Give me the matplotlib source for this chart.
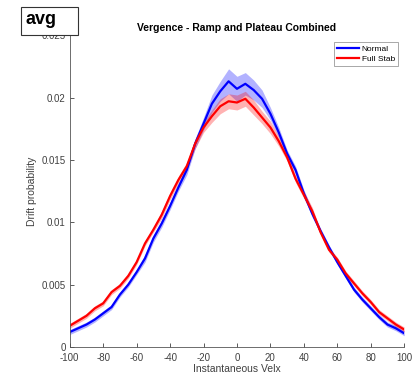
import matplotlib.pyplot as plt
from matplotlib.patches import Rectangle
import numpy as np

plt.rcParams['font.family'] = ['Liberation Sans', 'DejaVu Sans']
plt.rcParams['axes.unicode_minus'] = False

velx = list(range(-100, 101, 5))
normal = [0.0012, 0.0015, 0.0018, 0.0022, 0.0027, 0.0032, 0.0042, 0.0050, 0.0060, 0.0071,
          0.0087, 0.0099, 0.0113, 0.0128, 0.0142, 0.0163, 0.0179, 0.0195, 0.0205, 0.0213,
          0.0207, 0.0211, 0.0206, 0.0199, 0.0187, 0.0172, 0.0155, 0.0142, 0.0123, 0.0107,
          0.0093, 0.0080, 0.0068, 0.0057, 0.0046, 0.0038, 0.0031, 0.0024, 0.0018, 0.0015, 0.0011]
normal_err = [0.0002, 0.0002, 0.0002, 0.0002, 0.0002, 0.0002, 0.0002, 0.0002, 0.0002, 0.0003,
              0.0003, 0.0003, 0.0003, 0.0003, 0.0004, 0.0004, 0.0005, 0.0007, 0.0008, 0.0010,
              0.0010, 0.0009, 0.0008, 0.0007, 0.0005, 0.0004, 0.0003, 0.0003, 0.0003, 0.0003,
              0.0002, 0.0002, 0.0002, 0.0002, 0.0002, 0.0002, 0.0002, 0.0002, 0.0002, 0.0002, 0.0002]
stab = [0.0017, 0.0021, 0.0025, 0.0031, 0.0035, 0.0044, 0.0049, 0.0057, 0.0068, 0.0083,
        0.0094, 0.0106, 0.0121, 0.0134, 0.0145, 0.0163, 0.0176, 0.0185, 0.0193, 0.0197,
        0.0196, 0.0199, 0.0192, 0.0184, 0.0176, 0.0165, 0.0152, 0.0135, 0.0122, 0.0109,
        0.0092, 0.0078, 0.0070, 0.0059, 0.0051, 0.0043, 0.0036, 0.0028, 0.0023, 0.0018, 0.0014]
stab_err = [0.0002, 0.0002, 0.0002, 0.0002, 0.0002, 0.0002, 0.0002, 0.0002, 0.0002, 0.0002,
            0.0002, 0.0003, 0.0003, 0.0003, 0.0003, 0.0004, 0.0004, 0.0005, 0.0006, 0.0006,
            0.0006, 0.0006, 0.0006, 0.0005, 0.0005, 0.0004, 0.0003, 0.0003, 0.0003, 0.0003,
            0.0002, 0.0002, 0.0002, 0.0002, 0.0002, 0.0002, 0.0002, 0.0002, 0.0002, 0.0002, 0.0002]

x = np.array(velx)
n, ne = np.array(normal), np.array(normal_err)
s, se = np.array(stab), np.array(stab_err)

fig = plt.figure(figsize=(4.15, 3.78), dpi=100)
ax = fig.add_axes([0.168, 0.082, 0.806, 0.825])

ax.fill_between(x, n - ne, n + ne, color=(0, 0, 1), alpha=0.3, linewidth=0)
ax.fill_between(x, s - se, s + se, color=(1, 0, 0), alpha=0.3, linewidth=0)
ax.plot(x, n, color=(0, 0, 1), lw=1.6, label='Normal')
ax.plot(x, s, color=(1, 0, 0), lw=1.6, label='Full Stab')

ax.set_xlim(-100, 100)
ax.set_ylim(0, 0.025)
ax.set_xticks(range(-100, 101, 20))
ax.set_yticks([0, 0.005, 0.01, 0.015, 0.02, 0.025])
ax.set_yticklabels(['0', '0.005', '0.01', '0.015', '0.02', '0.025'])
ax.tick_params(direction='in', length=3, width=0.6, labelsize=7, colors='#404040', pad=3)
ax.tick_params(axis='x', pad=4)
for side in ['top', 'right']:
    ax.spines[side].set_visible(False)
for side in ['left', 'bottom']:
    ax.spines[side].set_color('#555555')
    ax.spines[side].set_linewidth(0.6)

ax.set_xlabel('Instantaneous Velx', fontsize=7.5, color='#404040', labelpad=1)
ax.set_ylabel('Drift probability', fontsize=7.5, color='#404040', labelpad=3)
ax.set_title('Vergence - Ramp and Plateau Combined', fontsize=7.5, fontweight='bold', pad=3)

leg = ax.legend(loc='upper right', bbox_to_anchor=(398 / 415, 1 - 42 / 378),
                bbox_transform=fig.transFigure, borderaxespad=0, fontsize=6,
                fancybox=False, handlelength=2.7, handletextpad=0.3,
                borderpad=0.35, labelspacing=0.3)
leg.get_frame().set_edgecolor('#808080')
leg.get_frame().set_linewidth(0.6)

# annotation box
fig.patches.append(Rectangle((21 / 415, 1 - 35 / 378), 57 / 415, 28 / 378,
                             transform=fig.transFigure, facecolor='white',
                             edgecolor='#333333', linewidth=0.8, zorder=5))
fig.text(25 / 415, 1 - 20 / 378, 'avg', fontsize=13, fontweight='bold',
         va='center', ha='left', zorder=6)

plt.savefig('out.png')
